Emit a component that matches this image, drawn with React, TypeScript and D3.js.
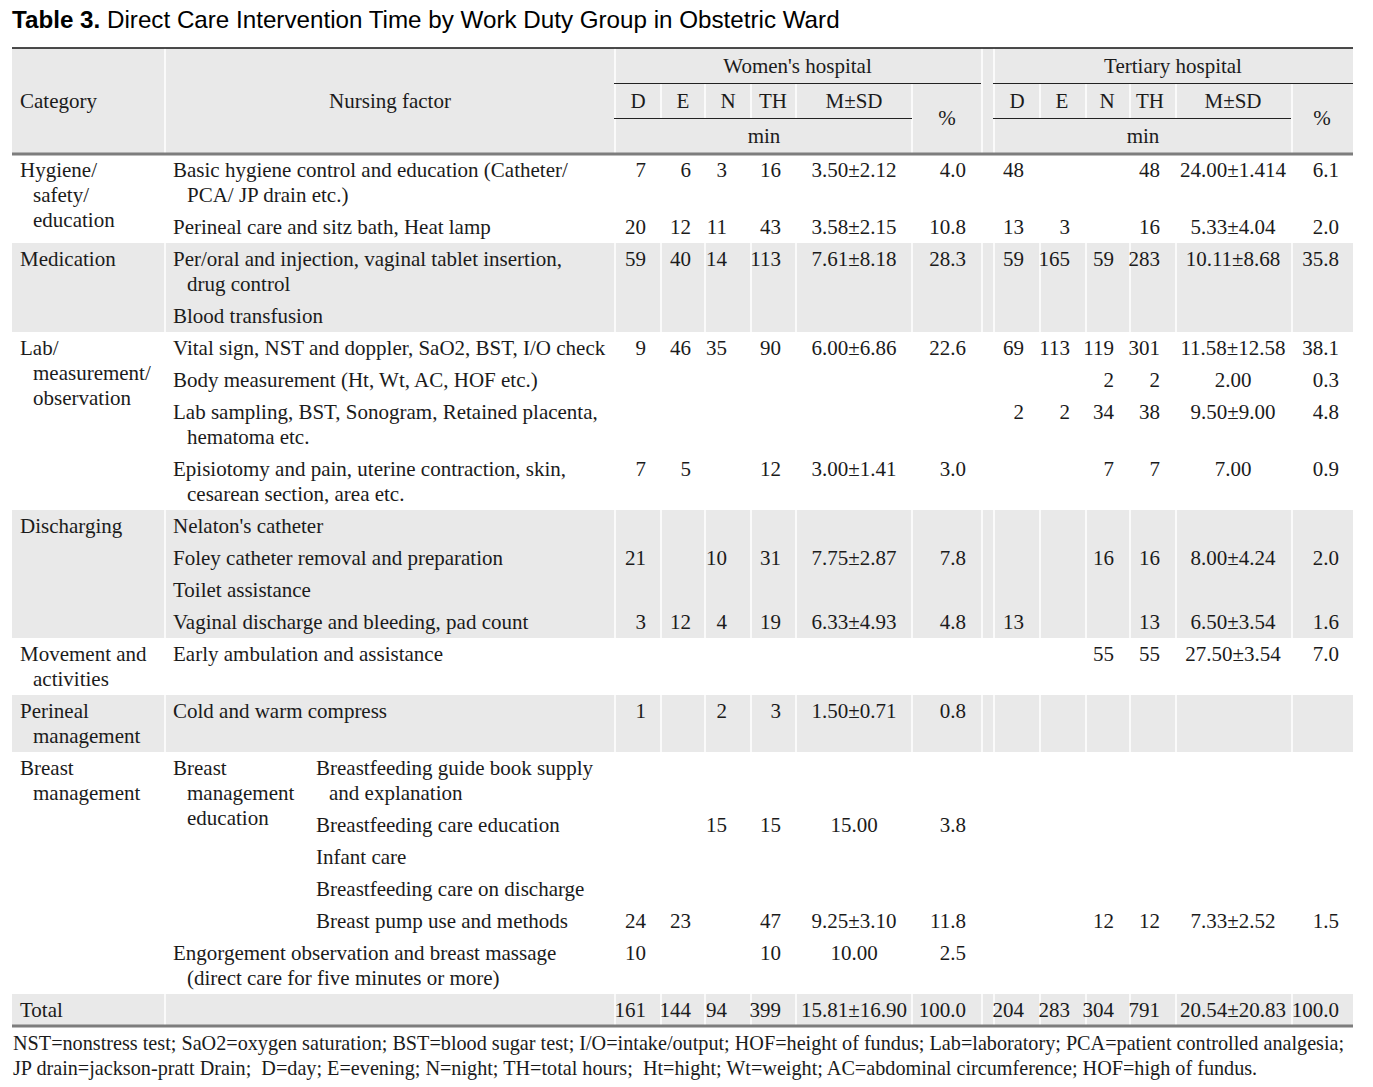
import React, { useEffect, useRef } from "react";
import * as d3 from "d3";

const W = 1373;
const H = 1087;

const titleBold = "Table 3.";
const titleRest = " Direct Care Intervention Time by Work Duty Group in Obstetric Ward";

const hospitals = ["Women's hospital", "Tertiary hospital"];
const subHeaders = ["D", "E", "N", "TH", "M±SD"];
const unitLabel = "min";
const pctLabel = "%";
const categoryHeader = "Category";
const factorHeader = "Nursing factor";
const totalLabel = "Total";

const categories: string[][] = [
  ["Hygiene/", "safety/", "education"],
  ["Medication"],
  ["Lab/", "measurement/", "observation"],
  ["Discharging"],
  ["Movement and", "activities"],
  ["Perineal", "management"],
  ["Breast", "management"],
];

const subGroupLabel = ["Breast", "management", "education"];

const factors: string[][] = [
  ["Basic hygiene control and education (Catheter/", "PCA/ JP drain etc.)"],
  ["Perineal care and sitz bath, Heat lamp"],
  ["Per/oral and injection, vaginal tablet insertion,", "drug control"],
  ["Blood transfusion"],
  ["Vital sign, NST and doppler, SaO2, BST, I/O check"],
  ["Body measurement (Ht, Wt, AC, HOF etc.)"],
  ["Lab sampling, BST, Sonogram, Retained placenta,", "hematoma etc."],
  ["Episiotomy and pain, uterine contraction, skin,", "cesarean section, area etc."],
  ["Nelaton's catheter"],
  ["Foley catheter removal and preparation"],
  ["Toilet assistance"],
  ["Vaginal discharge and bleeding, pad count"],
  ["Early ambulation and assistance"],
  ["Cold and warm compress"],
  ["Breastfeeding guide book supply", "and explanation"],
  ["Breastfeeding care education"],
  ["Infant care"],
  ["Breastfeeding care on discharge"],
  ["Breast pump use and methods"],
  ["Engorgement observation and breast massage", "(direct care for five minutes or more)"],
];
const factorCategory = [0, 0, 1, 1, 2, 2, 2, 2, 3, 3, 3, 3, 4, 5, 6, 6, 6, 6, 6, 6];
const factorInSubGroup = [false, false, false, false, false, false, false, false, false, false, false, false, false, false, true, true, true, true, true, false];

const _ = null;
const womenD = [7, 20, 59, _, 9, _, _, 7, _, 21, _, 3, _, 1, _, _, _, _, 24, 10];
const womenE = [6, 12, 40, _, 46, _, _, 5, _, _, _, 12, _, _, _, _, _, _, 23, _];
const womenN = [3, 11, 14, _, 35, _, _, _, _, 10, _, 4, _, 2, _, 15, _, _, _, _];
const womenTH = [16, 43, 113, _, 90, _, _, 12, _, 31, _, 19, _, 3, _, 15, _, _, 47, 10];
const womenMSD = ["3.50±2.12", "3.58±2.15", "7.61±8.18", _, "6.00±6.86", _, _, "3.00±1.41", _, "7.75±2.87", _, "6.33±4.93", _, "1.50±0.71", _, "15.00", _, _, "9.25±3.10", "10.00"];
const womenPct = [4.0, 10.8, 28.3, _, 22.6, _, _, 3.0, _, 7.8, _, 4.8, _, 0.8, _, 3.8, _, _, 11.8, 2.5];

const tertD = [48, 13, 59, _, 69, _, 2, _, _, _, _, 13, _, _, _, _, _, _, _, _];
const tertE = [_, 3, 165, _, 113, _, 2, _, _, _, _, _, _, _, _, _, _, _, _, _];
const tertN = [_, _, 59, _, 119, 2, 34, 7, _, 16, _, _, 55, _, _, _, _, _, 12, _];
const tertTH = [48, 16, 283, _, 301, 2, 38, 7, _, 16, _, 13, 55, _, _, _, _, _, 12, _];
const tertMSD = ["24.00±1.414", "5.33±4.04", "10.11±8.68", _, "11.58±12.58", "2.00", "9.50±9.00", "7.00", _, "8.00±4.24", _, "6.50±3.54", "27.50±3.54", _, _, _, _, _, "7.33±2.52", _];
const tertPct = [6.1, 2.0, 35.8, _, 38.1, 0.3, 4.8, 0.9, _, 2.0, _, 1.6, 7.0, _, _, _, _, _, 1.5, _];

const womenTotal = [161, 144, 94, 399];
const womenTotalMSD = "15.81±16.90";
const womenTotalPct = 100.0;
const tertTotal = [204, 283, 304, 791];
const tertTotalMSD = "20.54±20.83";
const tertTotalPct = 100.0;

const footnotes = [
  "NST=nonstress test; SaO2=oxygen saturation; BST=blood sugar test; I/O=intake/output; HOF=height of fundus; Lab=laboratory; PCA=patient controlled analgesia;",
  "JP drain=jackson-pratt Drain;  D=day; E=evening; N=night; TH=total hours;  Ht=hight; Wt=weight; AC=abdominal circumference; HOF=high of fundus.",
];

const SERIF = "'Liberation Serif', 'Times New Roman', serif";
const SANS = "'Liberation Sans', Arial, sans-serif";
const INK = "#1b1b1b";
const SHADE = "#e9e9e9";
const FS = 21;

export default function App() {
  const ref = useRef<SVGSVGElement>(null);

  useEffect(() => {
    const svg = d3.select(ref.current);
    svg.selectAll("*").remove();

    // Layout constants
    const left = 12, right = 1353;
    const tableTop = 48;
    const headRows = [48, 83, 118, 154];
    const firstLine = 170;
    const lineGap = 25, itemGap = 32, bandPad = 16;
    const colEdges = [12, 165, 615, 661, 705, 751, 796, 912, 982, 994, 1040, 1086, 1130, 1176, 1292, 1353];
    const catX = 20, catIndent = 13;
    const facX = 173, facIndent = 14;
    const subX = 316, subIndent = 13;

    const womenCols = { D: 646, E: 691, N: 727, TH: 781, MSD: 854, PCT: 966 };
    const tertCols = { D: 1024, E: 1070, N: 1114, TH: 1160, MSD: 1233, PCT: 1339 };
    const pf = d3.format(".1f");

    // compute vertical layout
    const itemY: number[] = [];
    const catStart: number[] = [];
    const catEnd: number[] = [];
    let y = firstLine;
    categories.forEach((cat, ci) => {
      catStart[ci] = y;
      let iy = y;
      factors.forEach((f, fi) => {
        if (factorCategory[fi] !== ci) return;
        itemY[fi] = iy;
        iy += lineGap * (f.length - 1) + itemGap;
      });
      const catSpan = y + lineGap * (cat.length - 1) + itemGap;
      y = Math.max(iy, catSpan);
      catEnd[ci] = y;
    });
    const totalY = y;
    const tableBottom = totalY + bandPad;

    // Header background
    svg.append("rect").attr("x", left).attr("y", headRows[0]).attr("width", right - left).attr("height", headRows[3] - headRows[0]).attr("fill", SHADE);

    // Shaded bands
    const bands: [number, number][] = [];
    categories.forEach((_c, ci) => {
      if (ci % 2 === 1) bands.push([catStart[ci] - bandPad, catEnd[ci] - bandPad]);
    });
    bands.push([totalY - bandPad, tableBottom]);
    svg.append("g").selectAll("rect").data(bands).join("rect")
      .attr("x", left).attr("y", (d) => d[0]).attr("width", right - left).attr("height", (d) => d[1] - d[0]).attr("fill", SHADE);

    // White column separators on bands
    const sepG = svg.append("g").attr("stroke", "#ffffff").attr("stroke-width", 1.5);
    const inner = colEdges.slice(1, -1);
    bands.forEach(([y0, y1]) => {
      sepG.append("g").selectAll("line").data(inner).join("line")
        .attr("x1", (d) => d).attr("x2", (d) => d).attr("y1", y0).attr("y2", y1);
    });
    // header separators
    const hdrFull = [165, 615, 982, 994];
    const hdrLower = [912, 1292];
    const hdrMid = [661, 705, 751, 796, 1040, 1086, 1130, 1176];
    sepG.append("g").selectAll("line").data(hdrFull).join("line")
      .attr("x1", (d) => d).attr("x2", (d) => d).attr("y1", headRows[0]).attr("y2", headRows[3]);
    sepG.append("g").selectAll("line").data(hdrLower).join("line")
      .attr("x1", (d) => d).attr("x2", (d) => d).attr("y1", headRows[1]).attr("y2", headRows[3]);
    sepG.append("g").selectAll("line").data(hdrMid).join("line")
      .attr("x1", (d) => d).attr("x2", (d) => d).attr("y1", headRows[1]).attr("y2", headRows[2]);

    // Rules
    svg.append("line").attr("x1", left).attr("x2", right).attr("y1", tableTop).attr("y2", tableTop).attr("stroke", "#111").attr("stroke-width", 1.5);
    const hospSpans = [[614, 981], [993, 1353]];
    const msdSpans = [[614, 912], [993, 1291]];
    svg.append("g").selectAll("line").data(hospSpans).join("line")
      .attr("x1", (d) => d[0]).attr("x2", (d) => d[1]).attr("y1", headRows[1] + 0.5).attr("y2", headRows[1] + 0.5).attr("stroke", "#222").attr("stroke-width", 1.2);
    svg.append("g").selectAll("line").data(msdSpans).join("line")
      .attr("x1", (d) => d[0]).attr("x2", (d) => d[1]).attr("y1", headRows[2] + 0.5).attr("y2", headRows[2] + 0.5).attr("stroke", "#222").attr("stroke-width", 1.2);
    [headRows[3], tableBottom].forEach((yy) => {
      svg.append("line").attr("x1", left).attr("x2", right).attr("y1", yy).attr("y2", yy).attr("stroke", "#7d7d7d").attr("stroke-width", 3);
    });

    // Title
    const title = svg.append("text").attr("x", 12).attr("y", 28).attr("font-family", SANS).attr("font-size", 24.2).attr("fill", "#000");
    title.append("tspan").attr("font-weight", "bold").text(titleBold);
    title.append("tspan").text(titleRest);

    const txt = svg.append("g").attr("font-family", SERIF).attr("font-size", FS).attr("fill", INK);
    const put = (x: number, yy: number, s: string, anchor = "start") =>
      txt.append("text").attr("x", x).attr("y", yy).attr("dy", "0.35em").attr("text-anchor", anchor).text(s);

    // Header text
    put(catX, 101, categoryHeader);
    put((165 + 615) / 2, 101, factorHeader, "middle");
    hospitals.forEach((h, i) => put((hospSpans[i][0] + hospSpans[i][1]) / 2, 66, h, "middle"));
    const subCenters = [[638, 683, 728, 773, 854], [1017, 1062, 1107, 1150, 1233]];
    subCenters.forEach((cs) => cs.forEach((cx, j) => put(cx, 101, subHeaders[j], "middle")));
    msdSpans.forEach((s) => put((s[0] + s[1]) / 2 + 1, 136, unitLabel, "middle"));
    [947, 1322].forEach((cx) => put(cx, 118, pctLabel, "middle"));

    // Category labels
    categories.forEach((cat, ci) => {
      cat.forEach((line, li) => put(li === 0 ? catX : catX + catIndent, catStart[ci] + li * lineGap, line));
    });
    // Sub group
    const subStart = itemY[factorInSubGroup.indexOf(true)];
    subGroupLabel.forEach((line, li) => put(li === 0 ? facX : facX + facIndent, subStart + li * lineGap, line));

    // Factors
    factors.forEach((f, fi) => {
      const bx = factorInSubGroup[fi] ? subX : facX;
      const ind = factorInSubGroup[fi] ? subIndent : facIndent;
      f.forEach((line, li) => put(li === 0 ? bx : bx + ind, itemY[fi] + li * lineGap, line));
    });

    // Values
    const drawSet = (cols: any, D: any[], E: any[], N: any[], TH: any[], MSD: any[], PCT: any[]) => {
      factors.forEach((_f, fi) => {
        const yy = itemY[fi];
        [[D, cols.D], [E, cols.E], [N, cols.N], [TH, cols.TH]].forEach(([arr, x]: any) => {
          if (arr[fi] != null) put(x, yy, String(arr[fi]), "end");
        });
        if (MSD[fi] != null) put(cols.MSD, yy, MSD[fi], "middle");
        if (PCT[fi] != null) put(cols.PCT, yy, pf(PCT[fi]), "end");
      });
    };
    drawSet(womenCols, womenD, womenE, womenN, womenTH, womenMSD, womenPct);
    drawSet(tertCols, tertD, tertE, tertN, tertTH, tertMSD, tertPct);

    // Total
    put(catX, totalY, totalLabel);
    const totalRow = (cols: any, vals: number[], msd: string, pct: number) => {
      [cols.D, cols.E, cols.N, cols.TH].forEach((x, i) => put(x, totalY, String(vals[i]), "end"));
      put(cols.MSD, totalY, msd, "middle");
      put(cols.PCT, totalY, pf(pct), "end");
    };
    totalRow(womenCols, womenTotal, womenTotalMSD, womenTotalPct);
    totalRow(tertCols, tertTotal, tertTotalMSD, tertTotalPct);

    // Footnotes
    const fn = svg.append("g").attr("font-family", SERIF).attr("font-size", 20.2).attr("fill", INK);
    footnotes.forEach((s, i) => {
      fn.append("text").attr("x", 13).attr("y", tableBottom + 17 + i * 25).attr("dy", "0.35em").style("white-space", "pre").text(s);
    });
  }, []);

  return (
    <div style={{ position: "absolute", left: 0, top: 0, width: W, height: H, background: "#fff" }}>
      <svg ref={ref} width={W} height={H} viewBox={`0 0 ${W} ${H}`} style={{ display: "block" }} />
    </div>
  );
}
